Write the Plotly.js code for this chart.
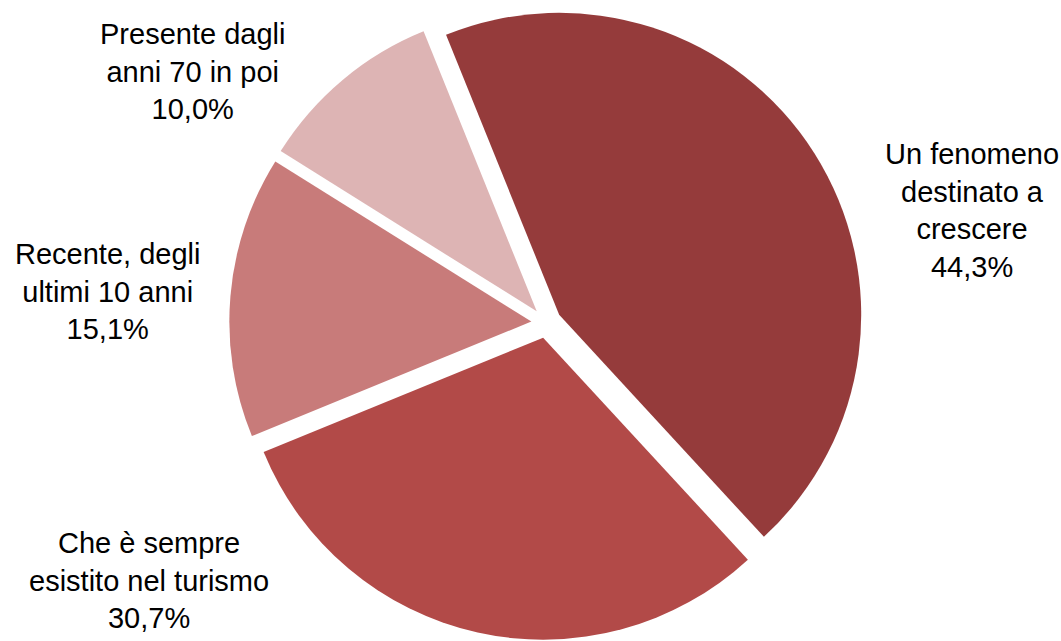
<!DOCTYPE html>
<html>
<head>
<meta charset="utf-8">
<script src="https://cdn.plot.ly/plotly-3.0.1.min.js"></script>
<style>html,body{margin:0;padding:0;background:#fff;}#chart{width:1061px;height:641px;}</style>
</head>
<body>
<div id="chart"></div>
<script>
const categories = [
  "Un fenomeno<br>destinato a<br>crescere",
  "Che è sempre<br>esistito nel turismo",
  "Recente, degli<br>ultimi 10 anni",
  "Presente dagli<br>anni 70 in poi"
];
const values = [44.3, 30.7, 15.1, 10.0];
const valueLabels = ["44,3%", "30,7%", "15,1%", "10,0%"];
const colors = ["#953B3B", "#B24A48", "#C87B7A", "#DDB4B4"];

// label anchor positions (paper coords)
const labelPos = [
  {x: 0.916, y: 0.672},
  {x: 0.140, y: 0.095},
  {x: 0.101, y: 0.545},
  {x: 0.181, y: 0.888}
];

const annotations = categories.map((c, i) => ({
  text: c + "<br>" + valueLabels[i],
  x: labelPos[i].x, y: labelPos[i].y,
  xref: "paper", yref: "paper",
  xanchor: "center", yanchor: "middle",
  showarrow: false, align: "center",
  font: {family: "Liberation Sans, Arial, sans-serif", size: 29, color: "#000"}
}));

const trace = {
  type: "pie",
  labels: categories,
  values: values,
  sort: false,
  direction: "clockwise",
  rotation: -22,
  pull: [0.05, 0.05, 0.05, 0.05],
  marker: {colors: colors, line: {width: 0}},
  textinfo: "none",
  hoverinfo: "label+percent",
  domain: {x: [0.20, 0.83], y: [0.0015, 0.991]}
};

Plotly.newPlot("chart", [trace], {
  width: 1061, height: 641,
  margin: {l: 0, r: 0, t: 0, b: 0},
  showlegend: false,
  paper_bgcolor: "#fff",
  annotations: annotations
}, {displayModeBar: false, staticPlot: true});
</script>
</body>
</html>
